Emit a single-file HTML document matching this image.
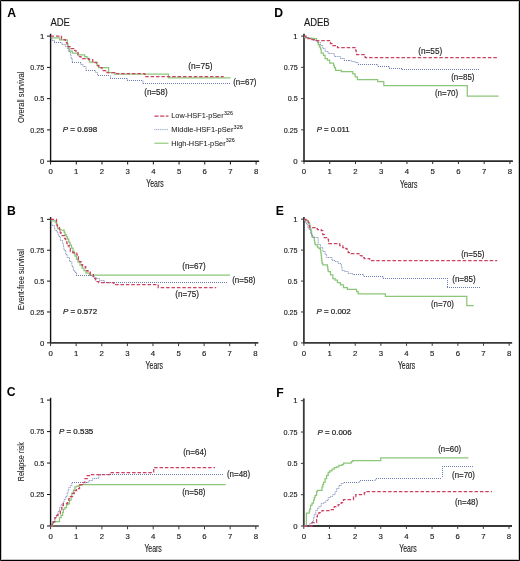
<!DOCTYPE html>
<html><head><meta charset="utf-8"><style>
html,body{margin:0;padding:0;background:#fff;}
svg{display:block;font-family:"Liberation Sans", sans-serif;will-change:transform;}
</style></head><body>
<svg width="520" height="561" viewBox="0 0 520 561">
<rect x="0" y="0" width="520" height="561" fill="#fff"/>
<path d="M1.5,1.5 H518.5 V559.5 H1.5 Z" fill="none" stroke="#c4c4c4" stroke-width="1"/>
<path d="M0.5,0.5 H519.5 V560.5 H0.5 Z" fill="none" stroke="#000" stroke-width="1"/>
<path d="M50.6,33.800000000000004 V161.2" fill="none" stroke="#111" stroke-width="1.4"/>
<path d="M49.9,161.2 H259.12" fill="none" stroke="#141414" stroke-width="1.4"/>
<path d="M47.0,161.20 H50.6" stroke="#111" stroke-width="1"/>
<path d="M47.0,129.92 H50.6" stroke="#111" stroke-width="1"/>
<path d="M47.0,98.65 H50.6" stroke="#111" stroke-width="1"/>
<path d="M47.0,67.38 H50.6" stroke="#111" stroke-width="1"/>
<path d="M47.0,36.10 H50.6" stroke="#111" stroke-width="1"/>
<path d="M50.60,161.2 V164.5" stroke="#141414" stroke-width="1"/>
<path d="M76.29,161.2 V164.5" stroke="#141414" stroke-width="1"/>
<path d="M101.98,161.2 V164.5" stroke="#141414" stroke-width="1"/>
<path d="M127.67,161.2 V164.5" stroke="#141414" stroke-width="1"/>
<path d="M153.36,161.2 V164.5" stroke="#141414" stroke-width="1"/>
<path d="M179.05,161.2 V164.5" stroke="#141414" stroke-width="1"/>
<path d="M204.74,161.2 V164.5" stroke="#141414" stroke-width="1"/>
<path d="M230.43,161.2 V164.5" stroke="#141414" stroke-width="1"/>
<path d="M256.12,161.2 V164.5" stroke="#141414" stroke-width="1"/>
<text x="44.3" y="163.90" font-size="7.8" text-anchor="end" fill="#222" stroke="#222" stroke-width="0.15">0</text>
<text x="44.3" y="132.62" font-size="7.8" text-anchor="end" textLength="13.96" lengthAdjust="spacingAndGlyphs" fill="#222" stroke="#222" stroke-width="0.15">0.25</text>
<text x="44.3" y="101.35" font-size="7.8" text-anchor="end" textLength="9.97" lengthAdjust="spacingAndGlyphs" fill="#222" stroke="#222" stroke-width="0.15">0.5</text>
<text x="44.3" y="70.08" font-size="7.8" text-anchor="end" textLength="13.96" lengthAdjust="spacingAndGlyphs" fill="#222" stroke="#222" stroke-width="0.15">0.75</text>
<text x="44.3" y="38.80" font-size="7.8" text-anchor="end" fill="#222" stroke="#222" stroke-width="0.15">1</text>
<text x="50.60" y="173.90" font-size="7.8" text-anchor="middle" fill="#222" stroke="#222" stroke-width="0.15">0</text>
<text x="76.29" y="173.90" font-size="7.8" text-anchor="middle" fill="#222" stroke="#222" stroke-width="0.15">1</text>
<text x="101.98" y="173.90" font-size="7.8" text-anchor="middle" fill="#222" stroke="#222" stroke-width="0.15">2</text>
<text x="127.67" y="173.90" font-size="7.8" text-anchor="middle" fill="#222" stroke="#222" stroke-width="0.15">3</text>
<text x="153.36" y="173.90" font-size="7.8" text-anchor="middle" fill="#222" stroke="#222" stroke-width="0.15">4</text>
<text x="179.05" y="173.90" font-size="7.8" text-anchor="middle" fill="#222" stroke="#222" stroke-width="0.15">5</text>
<text x="204.74" y="173.90" font-size="7.8" text-anchor="middle" fill="#222" stroke="#222" stroke-width="0.15">6</text>
<text x="230.43" y="173.90" font-size="7.8" text-anchor="middle" fill="#222" stroke="#222" stroke-width="0.15">7</text>
<text x="256.12" y="173.90" font-size="7.8" text-anchor="middle" fill="#222" stroke="#222" stroke-width="0.15">8</text>
<path d="M50.6,217.04999999999998 V342.85" fill="none" stroke="#111" stroke-width="1.4"/>
<path d="M49.9,342.85 H258.32" fill="none" stroke="#383838" stroke-width="1.7"/>
<path d="M47.0,342.85 H50.6" stroke="#111" stroke-width="1"/>
<path d="M47.0,311.98 H50.6" stroke="#111" stroke-width="1"/>
<path d="M47.0,281.10 H50.6" stroke="#111" stroke-width="1"/>
<path d="M47.0,250.22 H50.6" stroke="#111" stroke-width="1"/>
<path d="M47.0,219.35 H50.6" stroke="#111" stroke-width="1"/>
<path d="M50.60,342.85 V346.15000000000003" stroke="#383838" stroke-width="1"/>
<path d="M76.19,342.85 V346.15000000000003" stroke="#383838" stroke-width="1"/>
<path d="M101.78,342.85 V346.15000000000003" stroke="#383838" stroke-width="1"/>
<path d="M127.37,342.85 V346.15000000000003" stroke="#383838" stroke-width="1"/>
<path d="M152.96,342.85 V346.15000000000003" stroke="#383838" stroke-width="1"/>
<path d="M178.55,342.85 V346.15000000000003" stroke="#383838" stroke-width="1"/>
<path d="M204.14,342.85 V346.15000000000003" stroke="#383838" stroke-width="1"/>
<path d="M229.73,342.85 V346.15000000000003" stroke="#383838" stroke-width="1"/>
<path d="M255.32,342.85 V346.15000000000003" stroke="#383838" stroke-width="1"/>
<text x="44.3" y="345.55" font-size="7.8" text-anchor="end" fill="#222" stroke="#222" stroke-width="0.15">0</text>
<text x="44.3" y="314.68" font-size="7.8" text-anchor="end" textLength="13.96" lengthAdjust="spacingAndGlyphs" fill="#222" stroke="#222" stroke-width="0.15">0.25</text>
<text x="44.3" y="283.80" font-size="7.8" text-anchor="end" textLength="9.97" lengthAdjust="spacingAndGlyphs" fill="#222" stroke="#222" stroke-width="0.15">0.5</text>
<text x="44.3" y="252.92" font-size="7.8" text-anchor="end" textLength="13.96" lengthAdjust="spacingAndGlyphs" fill="#222" stroke="#222" stroke-width="0.15">0.75</text>
<text x="44.3" y="222.05" font-size="7.8" text-anchor="end" fill="#222" stroke="#222" stroke-width="0.15">1</text>
<text x="50.60" y="355.55" font-size="7.8" text-anchor="middle" fill="#222" stroke="#222" stroke-width="0.15">0</text>
<text x="76.19" y="355.55" font-size="7.8" text-anchor="middle" fill="#222" stroke="#222" stroke-width="0.15">1</text>
<text x="101.78" y="355.55" font-size="7.8" text-anchor="middle" fill="#222" stroke="#222" stroke-width="0.15">2</text>
<text x="127.37" y="355.55" font-size="7.8" text-anchor="middle" fill="#222" stroke="#222" stroke-width="0.15">3</text>
<text x="152.96" y="355.55" font-size="7.8" text-anchor="middle" fill="#222" stroke="#222" stroke-width="0.15">4</text>
<text x="178.55" y="355.55" font-size="7.8" text-anchor="middle" fill="#222" stroke="#222" stroke-width="0.15">5</text>
<text x="204.14" y="355.55" font-size="7.8" text-anchor="middle" fill="#222" stroke="#222" stroke-width="0.15">6</text>
<text x="229.73" y="355.55" font-size="7.8" text-anchor="middle" fill="#222" stroke="#222" stroke-width="0.15">7</text>
<text x="255.32" y="355.55" font-size="7.8" text-anchor="middle" fill="#222" stroke="#222" stroke-width="0.15">8</text>
<path d="M50.6,397.8 V526.0" fill="none" stroke="#111" stroke-width="1.4"/>
<path d="M49.9,526.0 H258.79999999999995" fill="none" stroke="#383838" stroke-width="1.7"/>
<path d="M47.0,526.00 H50.6" stroke="#111" stroke-width="1"/>
<path d="M47.0,494.52 H50.6" stroke="#111" stroke-width="1"/>
<path d="M47.0,463.05 H50.6" stroke="#111" stroke-width="1"/>
<path d="M47.0,431.58 H50.6" stroke="#111" stroke-width="1"/>
<path d="M47.0,400.10 H50.6" stroke="#111" stroke-width="1"/>
<path d="M50.60,526.0 V529.3" stroke="#383838" stroke-width="1"/>
<path d="M76.25,526.0 V529.3" stroke="#383838" stroke-width="1"/>
<path d="M101.90,526.0 V529.3" stroke="#383838" stroke-width="1"/>
<path d="M127.55,526.0 V529.3" stroke="#383838" stroke-width="1"/>
<path d="M153.20,526.0 V529.3" stroke="#383838" stroke-width="1"/>
<path d="M178.85,526.0 V529.3" stroke="#383838" stroke-width="1"/>
<path d="M204.50,526.0 V529.3" stroke="#383838" stroke-width="1"/>
<path d="M230.15,526.0 V529.3" stroke="#383838" stroke-width="1"/>
<path d="M255.80,526.0 V529.3" stroke="#383838" stroke-width="1"/>
<text x="44.3" y="528.70" font-size="7.8" text-anchor="end" fill="#222" stroke="#222" stroke-width="0.15">0</text>
<text x="44.3" y="497.22" font-size="7.8" text-anchor="end" textLength="13.96" lengthAdjust="spacingAndGlyphs" fill="#222" stroke="#222" stroke-width="0.15">0.25</text>
<text x="44.3" y="465.75" font-size="7.8" text-anchor="end" textLength="9.97" lengthAdjust="spacingAndGlyphs" fill="#222" stroke="#222" stroke-width="0.15">0.5</text>
<text x="44.3" y="434.28" font-size="7.8" text-anchor="end" textLength="13.96" lengthAdjust="spacingAndGlyphs" fill="#222" stroke="#222" stroke-width="0.15">0.75</text>
<text x="44.3" y="402.80" font-size="7.8" text-anchor="end" fill="#222" stroke="#222" stroke-width="0.15">1</text>
<text x="50.60" y="538.70" font-size="7.8" text-anchor="middle" fill="#222" stroke="#222" stroke-width="0.15">0</text>
<text x="76.25" y="538.70" font-size="7.8" text-anchor="middle" fill="#222" stroke="#222" stroke-width="0.15">1</text>
<text x="101.90" y="538.70" font-size="7.8" text-anchor="middle" fill="#222" stroke="#222" stroke-width="0.15">2</text>
<text x="127.55" y="538.70" font-size="7.8" text-anchor="middle" fill="#222" stroke="#222" stroke-width="0.15">3</text>
<text x="153.20" y="538.70" font-size="7.8" text-anchor="middle" fill="#222" stroke="#222" stroke-width="0.15">4</text>
<text x="178.85" y="538.70" font-size="7.8" text-anchor="middle" fill="#222" stroke="#222" stroke-width="0.15">5</text>
<text x="204.50" y="538.70" font-size="7.8" text-anchor="middle" fill="#222" stroke="#222" stroke-width="0.15">6</text>
<text x="230.15" y="538.70" font-size="7.8" text-anchor="middle" fill="#222" stroke="#222" stroke-width="0.15">7</text>
<text x="255.80" y="538.70" font-size="7.8" text-anchor="middle" fill="#222" stroke="#222" stroke-width="0.15">8</text>
<path d="M304.0,33.800000000000004 V161.1" fill="none" stroke="#3a3a3a" stroke-width="1.8"/>
<path d="M303.1,161.1 H512.92" fill="none" stroke="#2a2a2a" stroke-width="1.8"/>
<path d="M301.1,161.10 H304.0" stroke="#3a3a3a" stroke-width="1"/>
<path d="M301.1,129.85 H304.0" stroke="#3a3a3a" stroke-width="1"/>
<path d="M301.1,98.60 H304.0" stroke="#3a3a3a" stroke-width="1"/>
<path d="M301.1,67.35 H304.0" stroke="#3a3a3a" stroke-width="1"/>
<path d="M301.1,36.10 H304.0" stroke="#3a3a3a" stroke-width="1"/>
<path d="M304.00,161.1 V164.0" stroke="#2a2a2a" stroke-width="1"/>
<path d="M329.74,161.1 V164.0" stroke="#2a2a2a" stroke-width="1"/>
<path d="M355.48,161.1 V164.0" stroke="#2a2a2a" stroke-width="1"/>
<path d="M381.22,161.1 V164.0" stroke="#2a2a2a" stroke-width="1"/>
<path d="M406.96,161.1 V164.0" stroke="#2a2a2a" stroke-width="1"/>
<path d="M432.70,161.1 V164.0" stroke="#2a2a2a" stroke-width="1"/>
<path d="M458.44,161.1 V164.0" stroke="#2a2a2a" stroke-width="1"/>
<path d="M484.18,161.1 V164.0" stroke="#2a2a2a" stroke-width="1"/>
<path d="M509.92,161.1 V164.0" stroke="#2a2a2a" stroke-width="1"/>
<text x="297.7" y="163.80" font-size="7.8" text-anchor="end" fill="#222" stroke="#222" stroke-width="0.15">0</text>
<text x="297.7" y="132.55" font-size="7.8" text-anchor="end" textLength="13.96" lengthAdjust="spacingAndGlyphs" fill="#222" stroke="#222" stroke-width="0.15">0.25</text>
<text x="297.7" y="101.30" font-size="7.8" text-anchor="end" textLength="9.97" lengthAdjust="spacingAndGlyphs" fill="#222" stroke="#222" stroke-width="0.15">0.5</text>
<text x="297.7" y="70.05" font-size="7.8" text-anchor="end" textLength="13.96" lengthAdjust="spacingAndGlyphs" fill="#222" stroke="#222" stroke-width="0.15">0.75</text>
<text x="297.7" y="38.80" font-size="7.8" text-anchor="end" fill="#222" stroke="#222" stroke-width="0.15">1</text>
<text x="304.00" y="173.80" font-size="7.8" text-anchor="middle" fill="#222" stroke="#222" stroke-width="0.15">0</text>
<text x="329.74" y="173.80" font-size="7.8" text-anchor="middle" fill="#222" stroke="#222" stroke-width="0.15">1</text>
<text x="355.48" y="173.80" font-size="7.8" text-anchor="middle" fill="#222" stroke="#222" stroke-width="0.15">2</text>
<text x="381.22" y="173.80" font-size="7.8" text-anchor="middle" fill="#222" stroke="#222" stroke-width="0.15">3</text>
<text x="406.96" y="173.80" font-size="7.8" text-anchor="middle" fill="#222" stroke="#222" stroke-width="0.15">4</text>
<text x="432.70" y="173.80" font-size="7.8" text-anchor="middle" fill="#222" stroke="#222" stroke-width="0.15">5</text>
<text x="458.44" y="173.80" font-size="7.8" text-anchor="middle" fill="#222" stroke="#222" stroke-width="0.15">6</text>
<text x="484.18" y="173.80" font-size="7.8" text-anchor="middle" fill="#222" stroke="#222" stroke-width="0.15">7</text>
<text x="509.92" y="173.80" font-size="7.8" text-anchor="middle" fill="#222" stroke="#222" stroke-width="0.15">8</text>
<path d="M303.9,216.89999999999998 V342.9" fill="none" stroke="#3a3a3a" stroke-width="1.8"/>
<path d="M303.0,342.9 H512.18" fill="none" stroke="#383838" stroke-width="1.8"/>
<path d="M301.0,342.90 H303.9" stroke="#3a3a3a" stroke-width="1"/>
<path d="M301.0,311.97 H303.9" stroke="#3a3a3a" stroke-width="1"/>
<path d="M301.0,281.05 H303.9" stroke="#3a3a3a" stroke-width="1"/>
<path d="M301.0,250.12 H303.9" stroke="#3a3a3a" stroke-width="1"/>
<path d="M301.0,219.20 H303.9" stroke="#3a3a3a" stroke-width="1"/>
<path d="M303.90,342.9 V345.79999999999995" stroke="#383838" stroke-width="1"/>
<path d="M329.56,342.9 V345.79999999999995" stroke="#383838" stroke-width="1"/>
<path d="M355.22,342.9 V345.79999999999995" stroke="#383838" stroke-width="1"/>
<path d="M380.88,342.9 V345.79999999999995" stroke="#383838" stroke-width="1"/>
<path d="M406.54,342.9 V345.79999999999995" stroke="#383838" stroke-width="1"/>
<path d="M432.20,342.9 V345.79999999999995" stroke="#383838" stroke-width="1"/>
<path d="M457.86,342.9 V345.79999999999995" stroke="#383838" stroke-width="1"/>
<path d="M483.52,342.9 V345.79999999999995" stroke="#383838" stroke-width="1"/>
<path d="M509.18,342.9 V345.79999999999995" stroke="#383838" stroke-width="1"/>
<text x="297.6" y="345.60" font-size="7.8" text-anchor="end" fill="#222" stroke="#222" stroke-width="0.15">0</text>
<text x="297.6" y="314.67" font-size="7.8" text-anchor="end" textLength="13.96" lengthAdjust="spacingAndGlyphs" fill="#222" stroke="#222" stroke-width="0.15">0.25</text>
<text x="297.6" y="283.75" font-size="7.8" text-anchor="end" textLength="9.97" lengthAdjust="spacingAndGlyphs" fill="#222" stroke="#222" stroke-width="0.15">0.5</text>
<text x="297.6" y="252.82" font-size="7.8" text-anchor="end" textLength="13.96" lengthAdjust="spacingAndGlyphs" fill="#222" stroke="#222" stroke-width="0.15">0.75</text>
<text x="297.6" y="221.90" font-size="7.8" text-anchor="end" fill="#222" stroke="#222" stroke-width="0.15">1</text>
<text x="303.90" y="355.60" font-size="7.8" text-anchor="middle" fill="#222" stroke="#222" stroke-width="0.15">0</text>
<text x="329.56" y="355.60" font-size="7.8" text-anchor="middle" fill="#222" stroke="#222" stroke-width="0.15">1</text>
<text x="355.22" y="355.60" font-size="7.8" text-anchor="middle" fill="#222" stroke="#222" stroke-width="0.15">2</text>
<text x="380.88" y="355.60" font-size="7.8" text-anchor="middle" fill="#222" stroke="#222" stroke-width="0.15">3</text>
<text x="406.54" y="355.60" font-size="7.8" text-anchor="middle" fill="#222" stroke="#222" stroke-width="0.15">4</text>
<text x="432.20" y="355.60" font-size="7.8" text-anchor="middle" fill="#222" stroke="#222" stroke-width="0.15">5</text>
<text x="457.86" y="355.60" font-size="7.8" text-anchor="middle" fill="#222" stroke="#222" stroke-width="0.15">6</text>
<text x="483.52" y="355.60" font-size="7.8" text-anchor="middle" fill="#222" stroke="#222" stroke-width="0.15">7</text>
<text x="509.18" y="355.60" font-size="7.8" text-anchor="middle" fill="#222" stroke="#222" stroke-width="0.15">8</text>
<path d="M303.8,398.4 V526.0" fill="none" stroke="#3a3a3a" stroke-width="1.8"/>
<path d="M302.90000000000003,526.0 H512.0" fill="none" stroke="#383838" stroke-width="1.8"/>
<path d="M300.90000000000003,526.00 H303.8" stroke="#3a3a3a" stroke-width="1"/>
<path d="M300.90000000000003,494.68 H303.8" stroke="#3a3a3a" stroke-width="1"/>
<path d="M300.90000000000003,463.35 H303.8" stroke="#3a3a3a" stroke-width="1"/>
<path d="M300.90000000000003,432.02 H303.8" stroke="#3a3a3a" stroke-width="1"/>
<path d="M300.90000000000003,400.70 H303.8" stroke="#3a3a3a" stroke-width="1"/>
<path d="M303.80,526.0 V528.9" stroke="#383838" stroke-width="1"/>
<path d="M329.45,526.0 V528.9" stroke="#383838" stroke-width="1"/>
<path d="M355.10,526.0 V528.9" stroke="#383838" stroke-width="1"/>
<path d="M380.75,526.0 V528.9" stroke="#383838" stroke-width="1"/>
<path d="M406.40,526.0 V528.9" stroke="#383838" stroke-width="1"/>
<path d="M432.05,526.0 V528.9" stroke="#383838" stroke-width="1"/>
<path d="M457.70,526.0 V528.9" stroke="#383838" stroke-width="1"/>
<path d="M483.35,526.0 V528.9" stroke="#383838" stroke-width="1"/>
<path d="M509.00,526.0 V528.9" stroke="#383838" stroke-width="1"/>
<text x="297.5" y="528.70" font-size="7.8" text-anchor="end" fill="#222" stroke="#222" stroke-width="0.15">0</text>
<text x="297.5" y="497.38" font-size="7.8" text-anchor="end" textLength="13.96" lengthAdjust="spacingAndGlyphs" fill="#222" stroke="#222" stroke-width="0.15">0.25</text>
<text x="297.5" y="466.05" font-size="7.8" text-anchor="end" textLength="9.97" lengthAdjust="spacingAndGlyphs" fill="#222" stroke="#222" stroke-width="0.15">0.5</text>
<text x="297.5" y="434.72" font-size="7.8" text-anchor="end" textLength="13.96" lengthAdjust="spacingAndGlyphs" fill="#222" stroke="#222" stroke-width="0.15">0.75</text>
<text x="297.5" y="403.40" font-size="7.8" text-anchor="end" fill="#222" stroke="#222" stroke-width="0.15">1</text>
<text x="303.80" y="538.70" font-size="7.8" text-anchor="middle" fill="#222" stroke="#222" stroke-width="0.15">0</text>
<text x="329.45" y="538.70" font-size="7.8" text-anchor="middle" fill="#222" stroke="#222" stroke-width="0.15">1</text>
<text x="355.10" y="538.70" font-size="7.8" text-anchor="middle" fill="#222" stroke="#222" stroke-width="0.15">2</text>
<text x="380.75" y="538.70" font-size="7.8" text-anchor="middle" fill="#222" stroke="#222" stroke-width="0.15">3</text>
<text x="406.40" y="538.70" font-size="7.8" text-anchor="middle" fill="#222" stroke="#222" stroke-width="0.15">4</text>
<text x="432.05" y="538.70" font-size="7.8" text-anchor="middle" fill="#222" stroke="#222" stroke-width="0.15">5</text>
<text x="457.70" y="538.70" font-size="7.8" text-anchor="middle" fill="#222" stroke="#222" stroke-width="0.15">6</text>
<text x="483.35" y="538.70" font-size="7.8" text-anchor="middle" fill="#222" stroke="#222" stroke-width="0.15">7</text>
<text x="509.00" y="538.70" font-size="7.8" text-anchor="middle" fill="#222" stroke="#222" stroke-width="0.15">8</text>
<text x="7.3" y="16.6" font-size="12.2" font-weight="bold" fill="#000">A</text>
<text x="6.9" y="214.5" font-size="12.2" font-weight="bold" fill="#000">B</text>
<text x="6.8" y="395.9" font-size="12.2" font-weight="bold" fill="#000">C</text>
<text x="274.2" y="16.6" font-size="12.2" font-weight="bold" fill="#000">D</text>
<text x="275.8" y="214.7" font-size="12.2" font-weight="bold" fill="#000">E</text>
<text x="276.2" y="396.5" font-size="12.2" font-weight="bold" fill="#000">F</text>
<text x="50.4" y="25.9" font-size="10.6" textLength="19.5" lengthAdjust="spacingAndGlyphs" fill="#1a1a1a" stroke="#1a1a1a" stroke-width="0.15">ADE</text>
<text x="303.9" y="25.6" font-size="10.6" textLength="25.7" lengthAdjust="spacingAndGlyphs" fill="#1a1a1a" stroke="#1a1a1a" stroke-width="0.15">ADEB</text>
<text x="154.95" y="186.60" font-size="10.2" text-anchor="middle" textLength="17.4" lengthAdjust="spacingAndGlyphs" fill="#222" stroke="#222" stroke-width="0.15">Years</text>
<text x="154.30" y="368.50" font-size="10.2" text-anchor="middle" textLength="17.4" lengthAdjust="spacingAndGlyphs" fill="#222" stroke="#222" stroke-width="0.15">Years</text>
<text x="153.10" y="551.80" font-size="10.2" text-anchor="middle" textLength="17.4" lengthAdjust="spacingAndGlyphs" fill="#222" stroke="#222" stroke-width="0.15">Years</text>
<text x="408.65" y="187.60" font-size="10.2" text-anchor="middle" textLength="17.4" lengthAdjust="spacingAndGlyphs" fill="#222" stroke="#222" stroke-width="0.15">Years</text>
<text x="406.60" y="368.50" font-size="10.2" text-anchor="middle" textLength="17.4" lengthAdjust="spacingAndGlyphs" fill="#222" stroke="#222" stroke-width="0.15">Years</text>
<text x="407.95" y="551.80" font-size="10.2" text-anchor="middle" textLength="17.4" lengthAdjust="spacingAndGlyphs" fill="#222" stroke="#222" stroke-width="0.15">Years</text>
<text transform="translate(24.2,123.1) rotate(-90)" font-size="9.4" textLength="51.5" lengthAdjust="spacingAndGlyphs" fill="#222" stroke="#222" stroke-width="0.08">Overall survival</text>
<text transform="translate(24.3,309.9) rotate(-90)" font-size="9.4" textLength="60.7" lengthAdjust="spacingAndGlyphs" fill="#222" stroke="#222" stroke-width="0.08">Event-free survival</text>
<text transform="translate(24.0,481.2) rotate(-90)" font-size="9.4" textLength="39.0" lengthAdjust="spacingAndGlyphs" fill="#222" stroke="#222" stroke-width="0.08">Relapse risk</text>
<text x="62.8" y="132.1" font-size="7.9" fill="#222" stroke="#222" stroke-width="0.22" textLength="34.4" lengthAdjust="spacingAndGlyphs"><tspan font-style="italic">P</tspan> = 0.698</text>
<text x="62.9" y="314.1" font-size="7.9" fill="#222" stroke="#222" stroke-width="0.22" textLength="34.2" lengthAdjust="spacingAndGlyphs"><tspan font-style="italic">P</tspan> = 0.572</text>
<text x="59.0" y="433.5" font-size="7.9" fill="#222" stroke="#222" stroke-width="0.22" textLength="34.3" lengthAdjust="spacingAndGlyphs"><tspan font-style="italic">P</tspan> = 0.535</text>
<text x="316.7" y="132.0" font-size="7.9" fill="#222" stroke="#222" stroke-width="0.22" textLength="33.0" lengthAdjust="spacingAndGlyphs"><tspan font-style="italic">P</tspan> = 0.011</text>
<text x="316.5" y="314.0" font-size="7.9" fill="#222" stroke="#222" stroke-width="0.22" textLength="34.2" lengthAdjust="spacingAndGlyphs"><tspan font-style="italic">P</tspan> = 0.002</text>
<text x="317.5" y="434.6" font-size="7.9" fill="#222" stroke="#222" stroke-width="0.22" textLength="34.1" lengthAdjust="spacingAndGlyphs"><tspan font-style="italic">P</tspan> = 0.006</text>
<path d="M50.6,37.8 H59.6 V39.8 H65 H67.30 V43.50 H67.90 V45.75 H68.50 V48.00 H69.60 V51.00 H72.3 V53 H78 V54.8 H84.6 V56.5 H87 V58.4 H89.5 V62 H95.1 H97.00 V65.00 H98.50 V67.60 H108.6 V72.6 H114.8 V74 H168.5 V77.8 H230.6" fill="none" stroke="#8cc679" stroke-width="1.25"/>
<path d="M54,42.5H62 M72,62.5H81 M86,70.5H96 M98,75.5H110 M110,78.5H127 M127,80.5H143 M143,83.5H230" fill="none" stroke="#6b7db2" stroke-width="1.0" stroke-dasharray="1 1"/>
<path d="M50.60,38.00 H52.00 V40.50 H54.50 V42.50 M61.90,42.50 V44.50 H65.40 V46.50 H67.30 V48.50 H68.50 V51.50 H70.40 V54.50 H71.00 V58.50 H72.30 V62.50 M80.80,62.50 V64.50 H83.00 V66.50 H86.00 V70.50 M95.60,70.50 V72.50 H97.50 V75.50 M110.50,75.50 V78.50 M127.30,78.50 V80.50 M142.90,80.50 V83.50 M230.40,83.50" fill="none" stroke="#6b7db2" stroke-width="0.9" stroke-dasharray="1.2 0.6" stroke-opacity="0.85"/>
<path d="M50.6,36.1 H61.5 V39.5 H65.4 V42.5 H67 V46.5 H70 V48.5 H74 V50.5 H76 V52.5 H78 V56.5 H81 V58.5 H88.5 V59.5 H92.7 V62.5 H96.6 V65.5 H98.9 V67.5 H102 V70.5 H107 V72.5 H114.8 V73.5 H144.8 V76.5 H223.7" fill="none" stroke="#cd4262" stroke-width="1.25" stroke-dasharray="3.5 1.9"/>
<path d="M50.6,220.8 H55.2 V222 H56.35 V224.00 H57.50 V226.00 V228.5 H60.00 V230.20 H63.4 H64.20 V232.35 H65.00 V234.50 H66.25 V236.75 H67.50 V239.00 H68.75 V242.00 H70.00 V245.00 H71.50 V248.00 H73.00 V251.00 H74.00 V253.50 H75.00 V256.00 H76.50 V259.00 H78.00 V262.00 H80.00 V265.00 H82.00 V268.00 H84.00 V270.50 H86.00 V273.00 H89.50 V275.00 H230" fill="none" stroke="#8cc679" stroke-width="1.25"/>
<path d="M76,275.5H90 M104,282.5H228" fill="none" stroke="#6b7db2" stroke-width="1.0" stroke-dasharray="1 1"/>
<path d="M50.60,219.50 H51.20 V222.50 H51.80 V225.50 H54.20 H54.60 V228.50 H55.00 V230.50 H57.20 V232.50 H58.00 V234.50 H58.80 V236.50 H60.30 V240.50 H62.60 V242.50 H63.00 V244.50 H63.40 V246.50 H63.80 V248.50 H64.20 V250.50 H65.70 V254.50 H67.20 V257.50 H69.50 V261.50 H71.80 V265.50 H72.60 V267.50 H73.40 V270.50 H74.90 V272.50 H76.50 V275.50 M89.50,275.50 H91.80 V276.50 H94.20 V277.50 H96.50 V278.50 H99.50 V280.50 H101.80 V280.50 H104.20 V282.50 M228.00,282.50" fill="none" stroke="#6b7db2" stroke-width="0.9" stroke-dasharray="1.2 0.6" stroke-opacity="0.85"/>
<path d="M50.6,219.4 H55.7 H56.50 V222.5 H57.00 V225.5 H57.50 V227.5 H59.5 V229.5 H60.25 V232.5 H61.00 V235.5 H63.4 H64.55 V238.5 H65.70 V240.5 H66.85 V243.5 H68.00 V245.5 H69.15 V248.5 H70.30 V251.5 H72.60 V252.5 H76.5 H76.85 V254.5 H77.20 V256.5 H78.35 V259.5 H79.50 V261.5 H81.05 V264.5 H82.60 V266.5 H85.70 V270.5 H88.00 V271.5 H90.30 V274.5 H93.40 V278.5 H95.70 V281.5 H98.80 V282.5 H113.8 V284.5 H158.2 V287.5 H216.2" fill="none" stroke="#cd4262" stroke-width="1.25" stroke-dasharray="3.5 1.9"/>
<path d="M50.6,526 H52.60 V522.30 H54.90 V521.50 H58.8 H59.50 V517.70 H61.10 V515.40 H62.60 V512.30 H63.40 V509.20 H64.90 V507.70 H66.50 V504.60 H68.00 V503.80 H69.50 V500.00 H71.10 V496.20 H71.80 V493.10 H73.40 V490.00 H74.90 V486.90 H76.50 V486.20 H78.80 V485.40 H81.10 V484.50 H225.7" fill="none" stroke="#8cc679" stroke-width="1.25"/>
<path d="M72,482.5H87 M100,474.5H223" fill="none" stroke="#6b7db2" stroke-width="1.0" stroke-dasharray="1 1"/>
<path d="M50.60,526.00 H51.60 V523.50 H52.60 V521.50 H54.90 V517.50 H56.50 V514.50 H58.00 V511.50 H59.50 V507.50 H61.10 V504.50 H62.60 V503.50 H63.40 V501.50 H64.20 V499.50 H65.70 V496.50 H67.20 V492.50 H68.00 V490.50 H68.80 V487.50 H70.30 V485.50 H71.80 V482.50 M87.20,482.50 H88.80 V480.50 H92.60 V478.50 H97.20 H98.80 V475.50 H100.30 V474.50 M223.40,474.50" fill="none" stroke="#6b7db2" stroke-width="0.9" stroke-dasharray="1.2 0.6" stroke-opacity="0.85"/>
<path d="M50.6,526 H52.00 V523.5 H53.40 V521.5 H54.90 V517.5 H56.45 V515.5 H58.00 V513.5 H60.30 V510.5 H61.80 V507.5 H62.60 V505.5 H63.40 V503.5 H65.7 H67.20 V502.5 H68.80 V498.5 H70.30 V496.5 H72.60 V493.5 H74.20 V490.5 H76.50 V488.5 H79.50 V484.5 H82.60 V482.5 H84.90 V478.5 H87.20 V475.5 H89.50 V474.5 H109.8 V472.5 H153.7 V467.5 H215" fill="none" stroke="#cd4262" stroke-width="1.25" stroke-dasharray="3.5 1.9"/>
<path d="M304,37.5 H306.50 V37.75 H309.00 V38.00 H311.50 V38.25 H314.00 V38.50 H316.60 V40.80 H318.20 V44.60 H319.35 V46.90 H320.50 V49.20 H321.20 V53.10 H323.50 V55.40 H325.10 V58.50 H327.40 V60.00 H329.70 V63.10 H332.8 H333.55 V65.40 H334.30 V67.70 H335.50 V70.30 H341.2 V71.6 H351.2 H352.80 V73.80 H355.10 V76.90 H357.40 V79.50 H377.7 V81.5 H383.8 V85.6 H467.3 V96.2 H498.6" fill="none" stroke="#8cc679" stroke-width="1.25"/>
<path d="M344,60.5H349 M358,64.5H378 M378,66.5H389 M389,68.5H402 M402,69.5H480" fill="none" stroke="#6b7db2" stroke-width="1.0" stroke-dasharray="1 1"/>
<path d="M304.00,36.90 H306.40 V37.50 H308.80 V38.50 H311.20 V39.50 H313.50 V40.50 H315.80 V40.50 H317.40 V42.50 H320.50 V45.50 H322.80 V48.50 H325.10 V51.50 H328.20 V53.50 H332.00 V53.50 H334.30 V56.50 H337.40 V56.50 H340.50 V58.50 H344.30 V60.50 M348.90,60.50 H351.20 V61.50 H353.15 V61.50 H355.10 V62.50 H358.20 V64.50 M377.70,64.50 V66.50 M389.20,66.50 V68.50 M401.50,68.50 V69.50 M480.40,69.50" fill="none" stroke="#6b7db2" stroke-width="0.9" stroke-dasharray="1.2 0.6" stroke-opacity="0.85"/>
<path d="M304,36.2 H306.00 V37.5 H308.00 V38.5 H310.00 V38.5 H312.00 V39.5 H314.00 V39.5 H315.80 V40.5 H329.7 H330.50 V43.5 H332.80 V45.5 H336.60 V46.5 H337.50 V47.5 H355.1 H355.80 V50.5 H356.20 V52.5 H356.60 V54.5 H365.1 V57.5 H498.8" fill="none" stroke="#cd4262" stroke-width="1.25" stroke-dasharray="3.5 1.9"/>
<path d="M304,220.2 H307.40 V221.00 H308.55 V223.65 H309.70 V226.30 H310.45 V229.00 H311.20 V231.70 H311.60 V234.40 H312.00 V237.10 H314.30 V240.90 H314.70 V242.85 H315.10 V244.80 H317.40 V247.10 H318.90 V248.60 H320.50 V250.90 H320.85 V253.20 H321.20 V255.50 H321.47 V258.07 H321.73 V260.63 H322.00 V263.20 H322.80 V264.80 H325.8 H327.40 V267.10 H327.80 V269.40 H328.20 V271.70 H330.50 V274.80 H332.80 V278.60 H335.10 V280.20 H337.40 V282.50 H340.50 V284.80 H343.50 V287.50 H347.40 V289.40 H355.1 H356.60 V291.70 H358.20 V293.80 H385.4 V296.3 H466.8 V305.7 H473.8" fill="none" stroke="#8cc679" stroke-width="1.25"/>
<path d="M354,274.5H364 M364,276.5H383 M383,278.5H447 M447.5,278V288 M447,287.5H480" fill="none" stroke="#6b7db2" stroke-width="1.0" stroke-dasharray="1 1"/>
<path d="M304.00,220.20 H305.30 V222.50 H306.60 V224.50 H307.75 V227.50 H308.90 V229.50 H310.50 V233.50 H311.65 V235.50 H312.80 V237.50 H315.80 V237.50 H318.20 V239.50 V244.50 H320.50 V247.50 H322.80 V251.50 H325.10 V254.50 H326.60 V257.50 H329.70 V257.50 H332.00 V260.50 H335.10 V261.50 H338.20 V263.50 H341.20 V265.50 H341.60 V267.50 H342.00 V270.50 H344.30 V271.50 H348.20 V273.50 H350.50 V273.50 H352.80 V274.50 H353.50 V274.50 M363.50,274.50 V276.50 M383.00,276.50 V278.50 M447.40,278.50 M447.40,287.50 M479.80,287.50" fill="none" stroke="#6b7db2" stroke-width="0.9" stroke-dasharray="1.2 0.6" stroke-opacity="0.85"/>
<path d="M304,219.4 H306.10 V220.5 H308.20 V222.5 H308.95 V225.5 H309.70 V227.5 H313.5 H315.80 V228.5 H317.40 V229.5 H321.20 V230.5 H322.80 V234.5 H324.30 V237.5 H328.20 V239.5 H328.55 V241.5 H328.90 V243.5 H338.2 H339.70 V245.5 H342.80 V247.5 H345.80 V248.5 H347.00 V250.5 H348.20 V252.5 H351.20 V253.5 H356.6 H358.90 V255.5 H362.00 V257.5 H364.30 V258.5 H366.60 V258.5 H369.70 V260.5 H497.2" fill="none" stroke="#cd4262" stroke-width="1.25" stroke-dasharray="3.5 1.9"/>
<path d="M303.8,526 H306.4 V513.1 H308.9 H309.30 V511.15 H309.70 V509.20 H310.50 V505.40 H312.00 V503.10 H313.50 V500.00 H314.30 V497.70 H315.10 V495.40 H316.60 V491.50 H317.40 V490.30 H320.5 H322.00 V486.90 H322.75 V484.60 H323.50 V482.30 H325.10 V478.50 H326.60 V475.40 H328.20 V472.30 H329.70 V470.80 H332.00 V469.20 H334.30 V467.70 H336.60 V466.90 H338.90 V465.40 H342.00 V464.60 H343.50 V463.10 H348.2 H351.20 V461.50 H352.80 V460.50 H380.8 V457.8 H468.4" fill="none" stroke="#8cc679" stroke-width="1.25"/>
<path d="M344,482.5H358 M360,480.5H374 M376,478.5H442 M442.5,466V478 M442,466.5H474" fill="none" stroke="#6b7db2" stroke-width="1.0" stroke-dasharray="1 1"/>
<path d="M303.80,526.00 H307.40 H309.70 V523.50 H312.00 V521.50 H313.50 V517.50 H314.30 V514.50 H315.80 V510.50 H317.40 V508.50 H318.90 V506.50 H321.20 V503.50 H323.50 V502.50 H325.80 V500.50 H328.20 V497.50 H330.50 V496.50 H332.80 V494.50 H335.10 V491.50 H336.60 V488.50 H338.90 V485.50 H341.20 V483.50 H343.50 V482.50 M358.20,482.50 H359.70 V480.50 M374.30,480.50 H375.80 V478.50 M442.40,478.50 M442.40,466.50 M474.10,466.50" fill="none" stroke="#6b7db2" stroke-width="0.9" stroke-dasharray="1.2 0.6" stroke-opacity="0.85"/>
<path d="M303.8,526 H311.2 H312.00 V522.5 H315.8 H316.60 V519.5 H317.00 V516.5 H317.40 V513.5 H318.90 V512.5 H322.00 V510.5 H324.30 V510.5 H326.60 V510.5 H328.90 V510.5 H331.20 V509.5 H334.30 V506.5 H338.20 V504.5 H341.20 V502.5 H343.50 V499.5 H351.2 H353.50 V496.5 H355.80 V494.5 H362 H364.30 V492.5 H365.80 V491.5 H491.9" fill="none" stroke="#cd4262" stroke-width="1.25" stroke-dasharray="3.5 1.9"/>
<text x="188.2" y="69.4" font-size="8.4" textLength="24.4" lengthAdjust="spacingAndGlyphs" fill="#222" stroke="#222" stroke-width="0.15">(n=75)</text>
<text x="233.2" y="84.6" font-size="8.4" textLength="23.3" lengthAdjust="spacingAndGlyphs" fill="#222" stroke="#222" stroke-width="0.15">(n=67)</text>
<text x="144.2" y="95.4" font-size="8.4" textLength="23.6" lengthAdjust="spacingAndGlyphs" fill="#222" stroke="#222" stroke-width="0.15">(n=58)</text>
<text x="182.2" y="269.0" font-size="8.4" textLength="23.6" lengthAdjust="spacingAndGlyphs" fill="#222" stroke="#222" stroke-width="0.15">(n=67)</text>
<text x="232.2" y="283.4" font-size="8.4" textLength="23.3" lengthAdjust="spacingAndGlyphs" fill="#222" stroke="#222" stroke-width="0.15">(n=58)</text>
<text x="175.2" y="296.7" font-size="8.4" textLength="23.8" lengthAdjust="spacingAndGlyphs" fill="#222" stroke="#222" stroke-width="0.15">(n=75)</text>
<text x="183.2" y="455.3" font-size="8.4" textLength="23.3" lengthAdjust="spacingAndGlyphs" fill="#222" stroke="#222" stroke-width="0.15">(n=64)</text>
<text x="226.9" y="476.8" font-size="8.4" textLength="23.3" lengthAdjust="spacingAndGlyphs" fill="#222" stroke="#222" stroke-width="0.15">(n=48)</text>
<text x="182.2" y="495.1" font-size="8.4" textLength="23.3" lengthAdjust="spacingAndGlyphs" fill="#222" stroke="#222" stroke-width="0.15">(n=58)</text>
<text x="418.2" y="53.6" font-size="8.4" textLength="24.1" lengthAdjust="spacingAndGlyphs" fill="#222" stroke="#222" stroke-width="0.15">(n=55)</text>
<text x="451.2" y="79.7" font-size="8.4" textLength="23.3" lengthAdjust="spacingAndGlyphs" fill="#222" stroke="#222" stroke-width="0.15">(n=85)</text>
<text x="434.9" y="95.7" font-size="8.4" textLength="23.3" lengthAdjust="spacingAndGlyphs" fill="#222" stroke="#222" stroke-width="0.15">(n=70)</text>
<text x="461.2" y="257.3" font-size="8.4" textLength="23.3" lengthAdjust="spacingAndGlyphs" fill="#222" stroke="#222" stroke-width="0.15">(n=55)</text>
<text x="452.2" y="282.0" font-size="8.4" textLength="23.6" lengthAdjust="spacingAndGlyphs" fill="#222" stroke="#222" stroke-width="0.15">(n=85)</text>
<text x="430.9" y="307.4" font-size="8.4" textLength="23.0" lengthAdjust="spacingAndGlyphs" fill="#222" stroke="#222" stroke-width="0.15">(n=70)</text>
<text x="438.2" y="452.0" font-size="8.4" textLength="23.0" lengthAdjust="spacingAndGlyphs" fill="#222" stroke="#222" stroke-width="0.15">(n=60)</text>
<text x="452.05" y="477.7" font-size="8.4" textLength="22.95" lengthAdjust="spacingAndGlyphs" fill="#222" stroke="#222" stroke-width="0.15">(n=70)</text>
<text x="454.9" y="504.8" font-size="8.4" textLength="23.3" lengthAdjust="spacingAndGlyphs" fill="#222" stroke="#222" stroke-width="0.15">(n=48)</text>
<path d="M154.4,116.1 H168.5" stroke="#cd4262" stroke-width="1.3" stroke-dasharray="4.2 1.5"/>
<path d="M154.4,129.6 H168.5" stroke="#8fa0d0" stroke-width="1.0" stroke-dasharray="1 0.8"/>
<path d="M154.4,143.2 H168.5" stroke="#7dbf62" stroke-width="1.0"/>
<text x="171.3" y="118.4" font-size="7.9" textLength="52.3" lengthAdjust="spacingAndGlyphs" fill="#1a1a1a" stroke="#1a1a1a" stroke-width="0.05">Low-HSF1-pSer</text>
<text x="224.0" y="115.0" font-size="5.0" textLength="8.9" lengthAdjust="spacingAndGlyphs" fill="#1a1a1a" stroke="#1a1a1a" stroke-width="0.05">326</text>
<text x="171.3" y="132.0" font-size="7.9" textLength="62.1" lengthAdjust="spacingAndGlyphs" fill="#1a1a1a" stroke="#1a1a1a" stroke-width="0.05">Middle-HSF1-pSer</text>
<text x="233.6" y="128.6" font-size="5.0" textLength="9.3" lengthAdjust="spacingAndGlyphs" fill="#1a1a1a" stroke="#1a1a1a" stroke-width="0.05">326</text>
<text x="171.3" y="145.7" font-size="7.9" textLength="54.3" lengthAdjust="spacingAndGlyphs" fill="#1a1a1a" stroke="#1a1a1a" stroke-width="0.05">High-HSF1-pSer</text>
<text x="225.8" y="142.29999999999998" font-size="5.0" textLength="9.0" lengthAdjust="spacingAndGlyphs" fill="#1a1a1a" stroke="#1a1a1a" stroke-width="0.05">326</text>
</svg>
</body></html>
